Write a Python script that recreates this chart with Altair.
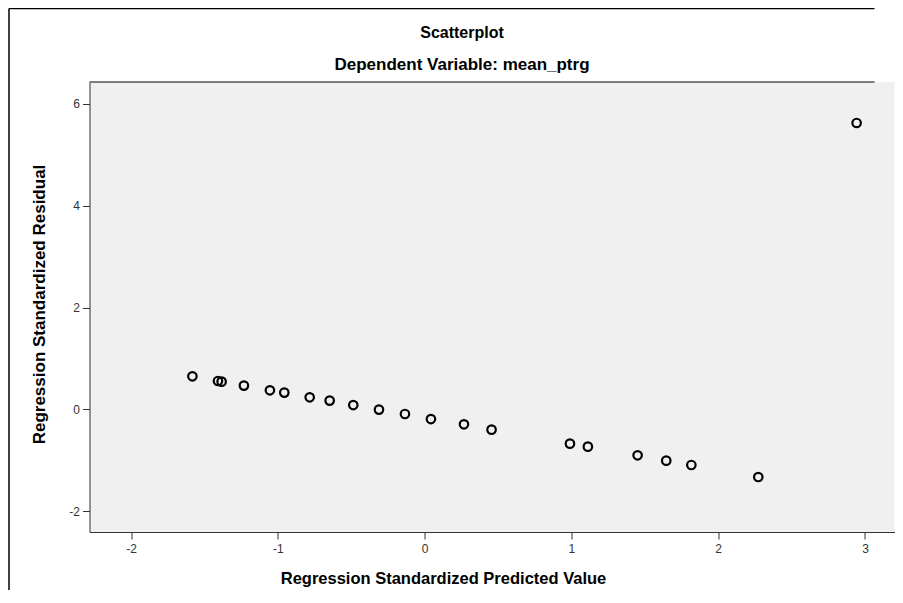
import altair as alt
import pandas as pd

# Values
predicted = [-1.582, -1.408, -1.383, -1.231, -1.054, -0.956, -0.783, -0.647,
             -0.486, -0.311, -0.134, 0.043, 0.268, 0.456, 0.990, 1.112,
             1.451, 1.646, 1.817, 2.273, 2.943]
residual = [0.648, 0.556, 0.544, 0.466, 0.373, 0.328, 0.236, 0.171,
            0.084, -0.006, -0.092, -0.191, -0.295, -0.399, -0.674, -0.733,
            -0.904, -1.008, -1.094, -1.330, 5.625]
x_ticks = [-2, -1, 0, 1, 2, 3]
y_ticks = [-2, 0, 2, 4, 6]
title_text = ["Scatterplot"]
subtitle_text = ["Dependent Variable: mean_ptrg"]
x_title = "Regression Standardized Predicted Value"
y_title = "Regression Standardized Residual"

W, H = 805, 450
FONT = "Liberation Sans"
LABEL_EXPR = "datum.value < 0 ? '-' + abs(datum.value) : '' + datum.value"

df = pd.DataFrame({"pred": predicted, "resid": residual})

points = alt.Chart(df).mark_point(
    shape="circle", filled=False, size=72, strokeWidth=2.2, color="black", opacity=1
).encode(
    x=alt.X("pred:Q",
            scale=alt.Scale(domain=[-2.283, 3.201], nice=False, zero=False),
            axis=alt.Axis(values=x_ticks, title=x_title, labelExpr=LABEL_EXPR,
                          grid=False, tickSize=7, labelPadding=4, labelFontSize=12,
                          labelFont=FONT, labelColor="#333", tickColor="#333",
                          domainColor="#333", titleFont=FONT, titleFontSize=16.5,
                          titleFontWeight="bold", titleColor="black",
                          titleX=353.5, titleY=46, titleAlign="center",
                          titleBaseline="middle")),
    y=alt.Y("resid:Q",
            scale=alt.Scale(domain=[-2.41, 6.43], nice=False, zero=False),
            axis=alt.Axis(values=y_ticks, title=y_title, labelExpr=LABEL_EXPR,
                          grid=False, tickSize=7, labelPadding=3, labelFontSize=12,
                          labelFont=FONT, labelColor="#333", tickColor="#333",
                          domainColor="#333", titleFont=FONT, titleFontSize=17,
                          titleFontWeight="bold", titleColor="black",
                          titleX=-50, titleY=222, titleAngle=-90,
                          titleAlign="center", titleBaseline="middle")),
)

one = alt.Data(values=[{}])

left_border = alt.Chart(one).mark_rule(color="black", strokeWidth=1.5).encode(
    x=alt.value(-80.5), y=alt.value(-73.5), y2=alt.value(H + 120),
)
top_border = alt.Chart(one).mark_rule(color="black", strokeWidth=1.5).encode(
    x=alt.value(-80.5), x2=alt.value(W - 20), y=alt.value(-73.5),
)
plot_top = alt.Chart(one).mark_rule(color="#555", strokeWidth=1.5).encode(
    x=alt.value(0), x2=alt.value(W - 20), y=alt.value(0),
)

title = alt.Chart(alt.Data(values=[{"t": t} for t in title_text])).mark_text(
    font=FONT, fontSize=16, fontWeight="bold", color="black",
    align="center", baseline="middle"
).encode(text="t:N", x=alt.value(372.5), y=alt.value(-49))

subtitle = alt.Chart(alt.Data(values=[{"t": t} for t in subtitle_text])).mark_text(
    font=FONT, fontSize=17, fontWeight="bold", color="black",
    align="center", baseline="middle"
).encode(text="t:N", x=alt.value(372.5), y=alt.value(-17))

chart = alt.layer(left_border, top_border, plot_top, title, subtitle, points).properties(
    width=W, height=H,
    autosize=alt.AutoSizeParams(type="none"),
    padding={"left": 81.5, "top": 74, "right": 0, "bottom": 58},
).configure(background="white").configure_view(
    fill="#f0f0f0", strokeWidth=0
)

chart.save("out.html", embed_options={"renderer": "svg", "actions": False})
